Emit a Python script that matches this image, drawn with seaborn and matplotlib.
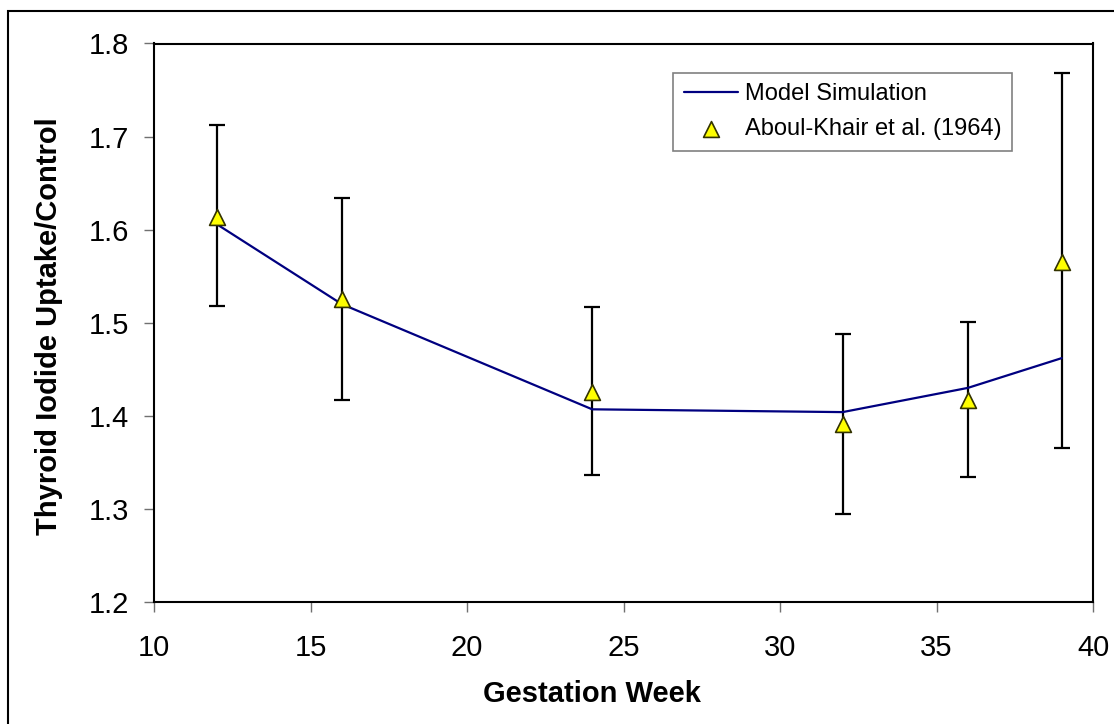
import numpy as np
import pandas as pd
import matplotlib
matplotlib.use('Agg')
import matplotlib.pyplot as plt
import seaborn as sns

# Model simulation
model_week = [12, 16, 24, 32, 36, 39]
model_ratio = [1.606, 1.520, 1.407, 1.404, 1.430, 1.462]

# Aboul-Khair et al. (1964) data with error bars
obs_week = [12, 16, 24, 32, 36, 39]
obs_ratio = [1.614, 1.526, 1.426, 1.391, 1.417, 1.565]
obs_upper = [1.712, 1.634, 1.517, 1.488, 1.501, 1.768]
obs_lower = [1.518, 1.417, 1.336, 1.295, 1.334, 1.365]

x_ticks = [10, 15, 20, 25, 30, 35, 40]
y_ticks = [1.2, 1.3, 1.4, 1.5, 1.6, 1.7, 1.8]

sns.set_style('ticks')
plt.rcParams['font.family'] = ['Liberation Sans', 'DejaVu Sans']

W, H = 1114, 724
fig = plt.figure(figsize=(W / 100, H / 100), dpi=100)
ax = fig.add_axes([154 / W, 1 - 602 / H, (1093 - 154) / W, (602 - 43.5) / H])

model_df = pd.DataFrame({'week': model_week, 'ratio': model_ratio})
obs_df = pd.DataFrame({'week': obs_week, 'ratio': obs_ratio,
                       'upper': obs_upper, 'lower': obs_lower})

# error bars first so the markers sit on top
yerr = np.array([obs_df['ratio'] - obs_df['lower'], obs_df['upper'] - obs_df['ratio']])
ax.errorbar(obs_df['week'], obs_df['ratio'], yerr=yerr, fmt='none', ecolor='black',
            elinewidth=1.6, capsize=5.5, capthick=1.6, zorder=2)

sns.lineplot(data=model_df, x='week', y='ratio', color='#000080', linewidth=1.6,
             ax=ax, label='Model Simulation', zorder=3)
sns.scatterplot(data=obs_df, x='week', y='ratio', marker='^', s=130, color='#FFFF00',
                edgecolor='#333300', linewidth=1.2, ax=ax,
                label='Aboul-Khair et al. (1964)', zorder=4)

ax.set_xlim(10, 40)
ax.set_ylim(1.2, 1.8)
ax.set_xticks(x_ticks)
ax.set_yticks(y_ticks)
ax.set_yticklabels([f'{v:.1f}' for v in y_ticks])
ax.tick_params(axis='both', labelsize=21, length=7, width=1, color='#707070',
               labelcolor='black', direction='out')
ax.tick_params(axis='y', pad=11)
ax.tick_params(axis='x', pad=16)
for s in ax.spines.values():
    s.set_color('black')
    s.set_linewidth(1.5)

ax.set_xlabel('Gestation Week', fontsize=21, fontweight='bold', color='black')
ax.set_ylabel('Thyroid Iodide Uptake/Control', fontsize=21, fontweight='bold', color='black')
ax.xaxis.set_label_coords((592 - 154) / (1093 - 154), -(694 - 602) / (602 - 43.5))
ax.xaxis.label.set_va('center')
ax.yaxis.set_label_coords(-(154 - 49) / (1093 - 154), (602 - 326) / (602 - 43.5))
ax.yaxis.label.set_va('center')

leg = ax.legend(loc='upper left', bbox_to_anchor=(673 / W, 1 - 72.7 / H),
                bbox_transform=fig.transFigure, borderaxespad=0, fontsize=17,
                frameon=True, fancybox=False, handlelength=2.3, handletextpad=0.3,
                labelspacing=0.55, borderpad=0.45)
leg.get_frame().set_edgecolor('#808080')
leg.get_frame().set_linewidth(1.2)
leg.get_frame().set_alpha(1)
for t in leg.get_texts():
    t.set_color('black')

# chart-area border (left and top edges visible in the original)
fig.add_artist(plt.Rectangle((8 / W, -0.05), 1.2, 1.05 - 11 / H, fill=False,
                             edgecolor='black', linewidth=1.5,
                             transform=fig.transFigure))

fig.savefig('out.png', dpi=100)
